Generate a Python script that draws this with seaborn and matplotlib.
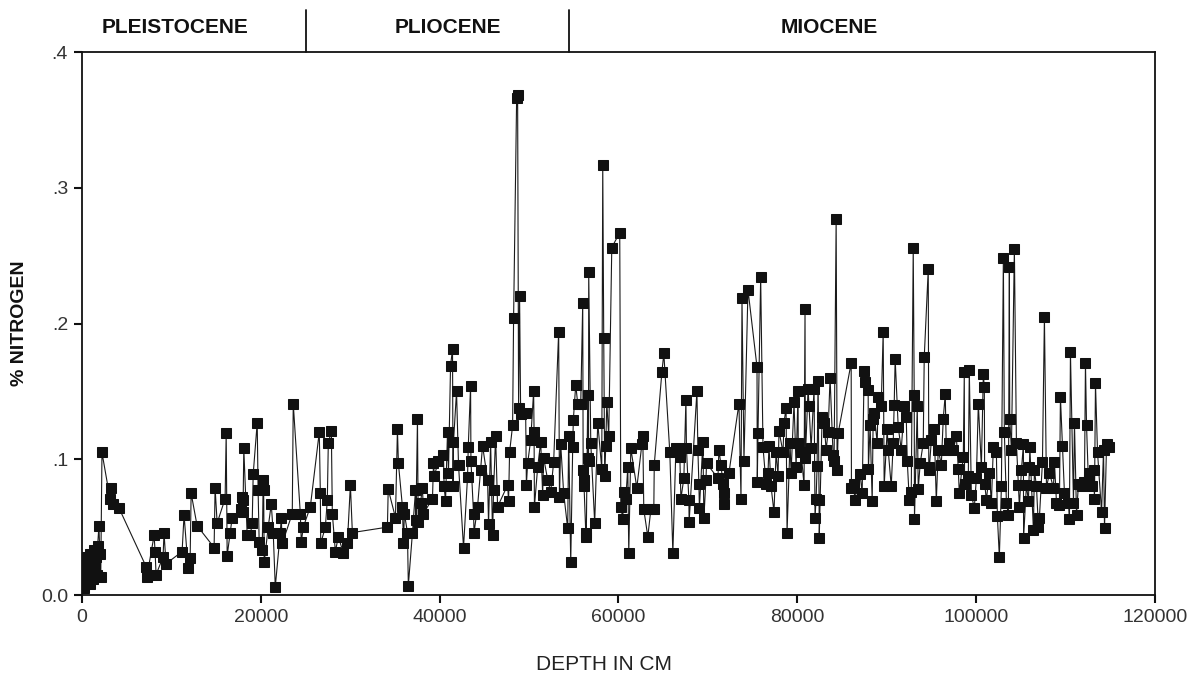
import matplotlib
matplotlib.use("Agg")
import matplotlib.pyplot as plt
from matplotlib import font_manager as fm
import seaborn as sns
import pandas as pd

depth = [0, 150, 250, 350, 450, 550, 650, 750, 850, 950, 1050, 1150, 1250, 1350, 1450, 1550, 1650, 1750, 1900, 2000,
         2100, 2240, 3140, 3250, 3470, 4150, 7170, 7250, 8070, 8180, 8290, 9070, 9180, 9400, 11200, 11420, 11870, 12100,
         12210, 12880, 14780, 14890, 15120, 16010, 16130, 16240, 16580, 16800, 17810, 17920, 17980, 18030, 18100, 18480,
         18820, 19040, 19150, 19600, 19700, 19820, 20160, 20270, 20320, 20380, 20830, 21170, 21390, 21620, 22180, 22290,
         22400, 23520, 23630, 24420, 24530, 24750, 25540, 26540, 26660, 26700, 27220, 27440, 27550, 27890, 28000, 28340,
         28670, 29230, 29680, 30020, 30240, 34160, 34250, 35060, 35280, 35390, 35840, 35950, 36060, 36400, 36500, 36960,
         37300, 37350, 37520, 37600, 37860, 38080, 38190, 39200, 39310, 39420, 39870, 40430, 40500, 40660, 40880, 40990,
         41220, 41440, 41500, 41550, 41890, 42110, 42670, 43120, 43200, 43460, 43500, 43790, 43850, 44240, 44580, 44800,
         45360, 45470, 45700, 45920, 46030, 46260, 46480, 47600, 47710, 47820, 48160, 48270, 48610, 48720, 48830, 48940,
         49060, 49620, 49700, 49840, 50180, 50510, 50560, 50600, 50960, 51300, 51520, 51630, 52080, 52420, 52750, 53310,
         53400, 53540, 53870, 54320, 54430, 54660, 54880, 54950, 55220, 55440, 55780, 56000, 56050, 56110, 56150, 56340,
         56400, 56560, 56600, 56650, 56670, 56900, 57340, 57680, 58130, 58240, 58350, 58460, 58580, 58690, 58910, 59250,
         60140, 60260, 60480, 60590, 60820, 61040, 61150, 61380, 62050, 62610, 62720, 62830, 63280, 63620, 63950, 64000,
         64850, 65070, 65740, 66080, 66420, 66860, 66980, 67310, 67540, 67600, 67870, 67900, 68770, 68880, 68990, 69050,
         69440, 69550, 69780, 69850, 71120, 71230, 71460, 71680, 71790, 71850, 72350, 73470, 73700, 73810, 74030, 74480,
         75490, 75520, 75600, 75900, 76160, 76500, 76720, 76830, 77060, 77390, 77620, 77840, 77950, 78400, 78510, 78740,
         78850, 79180, 79300, 79630, 79860, 80080, 80100, 80420, 80750, 80860, 80900, 81200, 81310, 81540, 81870, 81980,
         82100, 82210, 82320, 82430, 82450, 82770, 82990, 83220, 83440, 83660, 84000, 84110, 84340, 84450, 84560, 86020,
         86050, 86350, 86400, 87020, 87250, 87470, 87580, 87920, 87950, 88140, 88370, 88480, 88590, 88930, 89040, 89380,
         89600, 89710, 90050, 90160, 90500, 90720, 90830, 90940, 91280, 91620, 91950, 92180, 92290, 92520, 92740, 92960,
         93070, 93100, 93410, 93520, 93740, 94080, 94190, 94640, 94700, 94750, 94980, 95310, 95540, 95760, 96100, 96320,
         96540, 96660, 96990, 97440, 97780, 98000, 98110, 98560, 98670, 98700, 99120, 99230, 99460, 99790, 100020, 100240,
         100580, 100800, 100910, 100950, 101140, 101470, 101700, 101920, 102260, 102370, 102590, 102820, 103040, 103150,
         103380, 103600, 103710, 103750, 103940, 104270, 104500, 104720, 104830, 105060, 105280, 105300, 105620, 105840,
         105950, 106000, 106400, 106510, 106740, 106960, 107070, 107410, 107630, 107860, 108190, 108640, 108750, 108980,
         109310, 109420, 109650, 109870, 110320, 110430, 110540, 110880, 110990, 111220, 111440, 111780, 112110, 112220,
         112340, 112560, 112670, 112900, 113120, 113230, 113340, 113570, 114020, 114240, 114350, 114580, 114800]

nitrogen = [0.026, 0.010, 0.005, 0.020, 0.012, 0.028, 0.015, 0.022, 0.008, 0.030, 0.018, 0.025, 0.012, 0.033, 0.020, 0.028, 0.015, 0.036, 0.051, 0.030,
            0.013, 0.105, 0.071, 0.079, 0.067, 0.064, 0.021, 0.013, 0.044, 0.032, 0.015, 0.028, 0.046, 0.023, 0.032, 0.059, 0.020, 0.027,
            0.075, 0.051, 0.035, 0.079, 0.053, 0.071, 0.119, 0.029, 0.046, 0.057, 0.063, 0.072, 0.061, 0.070, 0.108, 0.044,
            0.044, 0.053, 0.089, 0.127, 0.077, 0.039, 0.033, 0.085, 0.077, 0.024, 0.050, 0.067, 0.046, 0.006, 0.046, 0.057,
            0.038, 0.060, 0.141, 0.060, 0.039, 0.050, 0.065, 0.120, 0.075, 0.038, 0.050, 0.070, 0.112, 0.121, 0.060, 0.032,
            0.043, 0.031, 0.038, 0.081, 0.046, 0.050, 0.078, 0.057, 0.122, 0.097, 0.065, 0.038, 0.060, 0.046, 0.007, 0.046,
            0.077, 0.055, 0.130, 0.054, 0.068, 0.079, 0.060, 0.071, 0.097, 0.088, 0.099, 0.103, 0.080, 0.069, 0.120, 0.090,
            0.169, 0.181, 0.080, 0.113, 0.150, 0.096, 0.035, 0.087, 0.109, 0.154, 0.099, 0.060, 0.046, 0.065, 0.092, 0.110,
            0.085, 0.052, 0.113, 0.044, 0.077, 0.117, 0.065, 0.081, 0.069, 0.105, 0.125, 0.204, 0.366, 0.368, 0.138, 0.220,
            0.133, 0.134, 0.081, 0.097, 0.114, 0.150, 0.120, 0.065, 0.094, 0.113, 0.074, 0.101, 0.085, 0.076, 0.098, 0.194,
            0.072, 0.111, 0.075, 0.049, 0.117, 0.024, 0.109, 0.129, 0.155, 0.141, 0.141, 0.215, 0.092, 0.085, 0.080, 0.046,
            0.043, 0.147, 0.101, 0.099, 0.238, 0.112, 0.053, 0.127, 0.093, 0.317, 0.189, 0.088, 0.110, 0.142, 0.117, 0.256,
            0.267, 0.065, 0.056, 0.076, 0.071, 0.094, 0.031, 0.108, 0.079, 0.111, 0.117, 0.063, 0.043, 0.063, 0.063, 0.096,
            0.164, 0.178, 0.105, 0.031, 0.108, 0.102, 0.071, 0.086, 0.144, 0.108, 0.070, 0.054, 0.150, 0.107, 0.082, 0.064,
            0.113, 0.057, 0.085, 0.097, 0.086, 0.107, 0.096, 0.082, 0.075, 0.067, 0.090, 0.141, 0.071, 0.219, 0.099, 0.225,
            0.168, 0.083, 0.119, 0.234, 0.109, 0.082, 0.090, 0.110, 0.080, 0.061, 0.105, 0.088, 0.121, 0.105, 0.127, 0.138,
            0.046, 0.112, 0.090, 0.142, 0.094, 0.150, 0.112, 0.105, 0.081, 0.211, 0.101, 0.152, 0.139, 0.108, 0.152, 0.057,
            0.071, 0.095, 0.158, 0.070, 0.042, 0.131, 0.127, 0.107, 0.120, 0.160, 0.103, 0.099, 0.277, 0.092, 0.119, 0.171,
            0.079, 0.082, 0.070, 0.089, 0.075, 0.165, 0.157, 0.151, 0.093, 0.125, 0.069, 0.130, 0.134, 0.112, 0.146, 0.139,
            0.194, 0.080, 0.122, 0.107, 0.080, 0.112, 0.140, 0.174, 0.124, 0.107, 0.139, 0.131, 0.099, 0.070, 0.076, 0.256,
            0.147, 0.056, 0.139, 0.078, 0.097, 0.112, 0.175, 0.240, 0.094, 0.092, 0.114, 0.122, 0.069, 0.107, 0.096, 0.130,
            0.148, 0.107, 0.112, 0.107, 0.117, 0.093, 0.075, 0.102, 0.164, 0.082, 0.088, 0.166, 0.074, 0.064, 0.086, 0.141,
            0.094, 0.163, 0.153, 0.082, 0.070, 0.090, 0.068, 0.109, 0.105, 0.058, 0.028, 0.080, 0.248, 0.120,
            0.068, 0.059, 0.242, 0.130, 0.107, 0.255, 0.112, 0.081, 0.065, 0.092, 0.111, 0.042, 0.081, 0.069,
            0.094, 0.109, 0.048, 0.092, 0.080, 0.050, 0.057, 0.098, 0.205, 0.079, 0.090, 0.079, 0.098, 0.068,
            0.066, 0.146, 0.110, 0.075, 0.068, 0.056, 0.179, 0.068, 0.127, 0.059, 0.082, 0.080, 0.083, 0.171,
            0.125, 0.082, 0.090, 0.080, 0.092, 0.071, 0.156, 0.105, 0.061, 0.107, 0.049, 0.111, 0.109]

x_ticks = [0, 20000, 40000, 60000, 80000, 100000, 120000]
x_tick_labels = ["0", "20000", "40000", "60000", "80000", "100000", "120000"]
y_ticks = [0.0, 0.1, 0.2, 0.3, 0.4]
y_tick_labels = ["0.0", ".1", ".2", ".3", ".4"]
epochs = ["PLEISTOCENE", "PLIOCENE", "MIOCENE"]
epoch_label_x = [10400, 40900, 83550]
epoch_bounds = [25050, 54460]

df = pd.DataFrame({"depth": depth, "nitrogen": nitrogen})

sns.set_theme(style="white")
names = {f.name for f in fm.fontManager.ttflist}
light_font = "Liberation Sans Narrow" if "Liberation Sans Narrow" in names else "Liberation Sans"
plt.rcParams["font.family"] = ["Liberation Sans", "DejaVu Sans"]

fig = plt.figure(figsize=(11.91, 6.75), dpi=100)
ax = fig.add_axes([0.0688, 0.1185, 0.901, 0.8044])

sns.lineplot(data=df, x="depth", y="nitrogen", ax=ax, sort=False, estimator=None,
             color="#1a1a1a", linewidth=0.8, marker="s", markersize=7.5,
             markerfacecolor="#111111", markeredgecolor="#111111")

ax.set_xlim(0, 120000)
ax.set_ylim(0, 0.4)
ax.set_xticks(x_ticks)
ax.set_xticklabels(x_tick_labels, family=[light_font, "DejaVu Sans"], fontsize=14, color="#333333")
ax.set_yticks(y_ticks)
ax.set_yticklabels(y_tick_labels, family=[light_font, "DejaVu Sans"], fontsize=14, color="#333333")
ax.tick_params(axis="both", direction="out", length=6, width=1.5, color="#111111", left=True, bottom=True, pad=4)

for s in ax.spines.values():
    s.set_visible(True)
    s.set_color("#111111")
    s.set_linewidth(1.3)

ax.set_xlabel("")
fig.text(604 / 1191, 1 - 664 / 675, "DEPTH IN CM", ha="center", va="center",
         family=[light_font, "DejaVu Sans"], fontsize=15, color="#222222")
ax.set_ylabel("% NITROGEN", fontsize=14, fontweight="bold", color="#111111", labelpad=9)

for b in epoch_bounds:
    ax.plot([b, b], [0.4, 0.431], color="#111111", linewidth=1.3, clip_on=False)
for lab, xx in zip(epochs, epoch_label_x):
    ax.text(xx, 0.418, lab, ha="center", va="center", fontsize=15, fontweight="bold",
            color="#111111", clip_on=False)

fig.savefig("out.png", dpi=100, facecolor="white")
